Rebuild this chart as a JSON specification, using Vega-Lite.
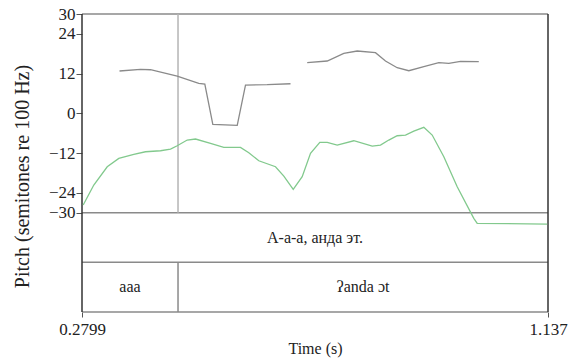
{
  "$schema": "https://vega.github.io/schema/vega-lite/v6.json",
  "width": 466,
  "height": 298,
  "autosize": {"type": "none"},
  "padding": {"left": 82, "top": 14, "right": 25, "bottom": 46},
  "background": "white",
  "config": {
    "view": {"stroke": null},
    "font": "Liberation Serif",
    "axis": {"labelFont": "Liberation Serif", "titleFont": "Liberation Serif", "labelFontSize": 17, "titleFontSize": 16, "titleFontWeight": "normal", "labelColor": "#222", "titleColor": "#222", "tickColor": "#555", "grid": false}
  },
  "datasets": {
    "frame": [
      {"x": 0.2799, "x2": 1.137, "y": 30, "y2": 30, "part": "frame"},
      {"x": 0.2799, "x2": 1.137, "y": -30, "y2": -30, "part": "frame"},
      {"x": 0.2799, "x2": 1.137, "y": -45, "y2": -45, "part": "frame"},
      {"x": 0.2799, "x2": 1.137, "y": -60, "y2": -60, "part": "frame"},
      {"x": 0.2799, "x2": 0.2799, "y": -60, "y2": 30, "part": "edge"},
      {"x": 1.137, "x2": 1.137, "y": -60, "y2": 30, "part": "edge"},
      {"x": 0.4565, "x2": 0.4565, "y": -30, "y2": 30, "part": "boundary"},
      {"x": 0.4565, "x2": 0.4565, "y": -60, "y2": -45, "part": "frame"}
    ],
    "pitch": [
      {"t": 0.3489, "st": 12.78, "curve": "upper", "seg": "u1"},
      {"t": 0.3875, "st": 13.29, "curve": "upper", "seg": "u1"},
      {"t": 0.4059, "st": 13.17, "curve": "upper", "seg": "u1"},
      {"t": 0.4550, "st": 11.27, "curve": "upper", "seg": "u1"},
      {"t": 0.4947, "st": 9.06, "curve": "upper", "seg": "u1"},
      {"t": 0.5058, "st": 8.85, "curve": "upper", "seg": "u1"},
      {"t": 0.5205, "st": -3.32, "curve": "upper", "seg": "u1"},
      {"t": 0.5654, "st": -3.63, "curve": "upper", "seg": "u1"},
      {"t": 0.5806, "st": 8.55, "curve": "upper", "seg": "u1"},
      {"t": 0.6205, "st": 8.64, "curve": "upper", "seg": "u1"},
      {"t": 0.6634, "st": 8.94, "curve": "upper", "seg": "u1"},
      {"t": 0.6941, "st": 15.29, "curve": "upper", "seg": "u2"},
      {"t": 0.7309, "st": 15.80, "curve": "upper", "seg": "u2"},
      {"t": 0.7614, "st": 18.13, "curve": "upper", "seg": "u2"},
      {"t": 0.7861, "st": 18.82, "curve": "upper", "seg": "u2"},
      {"t": 0.8197, "st": 18.31, "curve": "upper", "seg": "u2"},
      {"t": 0.8381, "st": 15.80, "curve": "upper", "seg": "u2"},
      {"t": 0.8596, "st": 13.78, "curve": "upper", "seg": "u2"},
      {"t": 0.8810, "st": 12.87, "curve": "upper", "seg": "u2"},
      {"t": 0.9086, "st": 14.08, "curve": "upper", "seg": "u2"},
      {"t": 0.9362, "st": 15.29, "curve": "upper", "seg": "u2"},
      {"t": 0.9546, "st": 15.11, "curve": "upper", "seg": "u2"},
      {"t": 0.9761, "st": 15.71, "curve": "upper", "seg": "u2"},
      {"t": 1.0097, "st": 15.59, "curve": "upper", "seg": "u2"},
      {"t": 0.2821, "st": -27.70, "curve": "lower", "seg": "g"},
      {"t": 0.3016, "st": -21.66, "curve": "lower", "seg": "g"},
      {"t": 0.3263, "st": -16.13, "curve": "lower", "seg": "g"},
      {"t": 0.3476, "st": -13.60, "curve": "lower", "seg": "g"},
      {"t": 0.3752, "st": -12.39, "curve": "lower", "seg": "g"},
      {"t": 0.3967, "st": -11.60, "curve": "lower", "seg": "g"},
      {"t": 0.4243, "st": -11.30, "curve": "lower", "seg": "g"},
      {"t": 0.4427, "st": -10.79, "curve": "lower", "seg": "g"},
      {"t": 0.4550, "st": -9.79, "curve": "lower", "seg": "g"},
      {"t": 0.4734, "st": -8.07, "curve": "lower", "seg": "g"},
      {"t": 0.4887, "st": -7.76, "curve": "lower", "seg": "g"},
      {"t": 0.5163, "st": -9.06, "curve": "lower", "seg": "g"},
      {"t": 0.5407, "st": -10.27, "curve": "lower", "seg": "g"},
      {"t": 0.5714, "st": -10.27, "curve": "lower", "seg": "g"},
      {"t": 0.5867, "st": -11.90, "curve": "lower", "seg": "g"},
      {"t": 0.6051, "st": -14.32, "curve": "lower", "seg": "g"},
      {"t": 0.6358, "st": -16.13, "curve": "lower", "seg": "g"},
      {"t": 0.6511, "st": -18.94, "curve": "lower", "seg": "g"},
      {"t": 0.6684, "st": -22.96, "curve": "lower", "seg": "g"},
      {"t": 0.6849, "st": -19.15, "curve": "lower", "seg": "g"},
      {"t": 0.7002, "st": -12.08, "curve": "lower", "seg": "g"},
      {"t": 0.7173, "st": -8.76, "curve": "lower", "seg": "g"},
      {"t": 0.7309, "st": -8.76, "curve": "lower", "seg": "g"},
      {"t": 0.7493, "st": -9.58, "curve": "lower", "seg": "g"},
      {"t": 0.7798, "st": -8.28, "curve": "lower", "seg": "g"},
      {"t": 0.8137, "st": -9.88, "curve": "lower", "seg": "g"},
      {"t": 0.8289, "st": -9.58, "curve": "lower", "seg": "g"},
      {"t": 0.8442, "st": -8.07, "curve": "lower", "seg": "g"},
      {"t": 0.8596, "st": -6.77, "curve": "lower", "seg": "g"},
      {"t": 0.8749, "st": -6.56, "curve": "lower", "seg": "g"},
      {"t": 0.8902, "st": -5.35, "curve": "lower", "seg": "g"},
      {"t": 0.9086, "st": -4.23, "curve": "lower", "seg": "g"},
      {"t": 0.9240, "st": -6.56, "curve": "lower", "seg": "g"},
      {"t": 0.9454, "st": -13.11, "curve": "lower", "seg": "g"},
      {"t": 0.9700, "st": -22.18, "curve": "lower", "seg": "g"},
      {"t": 1.0005, "st": -31.72, "curve": "lower", "seg": "g"},
      {"t": 1.0068, "st": -33.23, "curve": "lower", "seg": "g"},
      {"t": 1.1355, "st": -33.44, "curve": "lower", "seg": "g"}
    ],
    "tiers": [
      {"t": 0.70845, "y": -37.5, "label": "А-а-а, анда эт."},
      {"t": 0.3682, "y": -52.5, "label": "aaa"},
      {"t": 0.79675, "y": -52.5, "label": "ʔanda ɔt"}
    ]
  },
  "layer": [
    {
      "data": {"name": "frame"},
      "mark": {"type": "rule", "strokeWidth": 1.5},
      "encoding": {
        "x": {"field": "x", "type": "quantitative", "scale": {"domain": [0.2799, 1.137], "nice": false, "zero": false},
          "axis": {"values": [0.2799, 1.137], "labelExpr": "datum.value < 0.5 ? '0.2799' : '1.137'", "domain": false, "tickSize": 5, "labelPadding": 4, "title": "Time (s)", "titlePadding": 3, "labelFlush": false}},
        "x2": {"field": "x2"},
        "y": {"field": "y", "type": "quantitative", "scale": {"domain": [-60, 30], "nice": false, "zero": false},
          "axis": {"values": [30, 24, 12, 0, -12, -24, -30], "domain": false, "tickSize": 6, "labelPadding": 1, "title": "Pitch (semitones re 100 Hz)", "titleFontSize": 20, "titleX": -50, "titleY": 162, "titleAngle": -90, "titleBaseline": "bottom", "titleAlign": "center"}},
        "y2": {"field": "y2"},
        "color": {"field": "part", "type": "nominal", "scale": {"domain": ["frame", "edge", "boundary"], "range": ["#8a8a8a", "#333333", "#b5b5b5"]}, "legend": null}
      }
    },
    {
      "data": {"name": "pitch"},
      "mark": {"type": "line", "strokeWidth": 1.3},
      "encoding": {
        "x": {"field": "t", "type": "quantitative"},
        "y": {"field": "st", "type": "quantitative"},
        "detail": {"field": "seg", "type": "nominal"},
        "stroke": {"field": "curve", "type": "nominal", "scale": {"domain": ["upper", "lower"], "range": ["#8a8a8a", "#82c98d"]}, "legend": null}
      }
    },
    {
      "data": {"name": "tiers"},
      "mark": {"type": "text", "fontSize": 16, "color": "#222", "font": "Liberation Serif"},
      "encoding": {
        "x": {"field": "t", "type": "quantitative"},
        "y": {"field": "y", "type": "quantitative"},
        "text": {"field": "label", "type": "nominal"}
      }
    }
  ]
}
